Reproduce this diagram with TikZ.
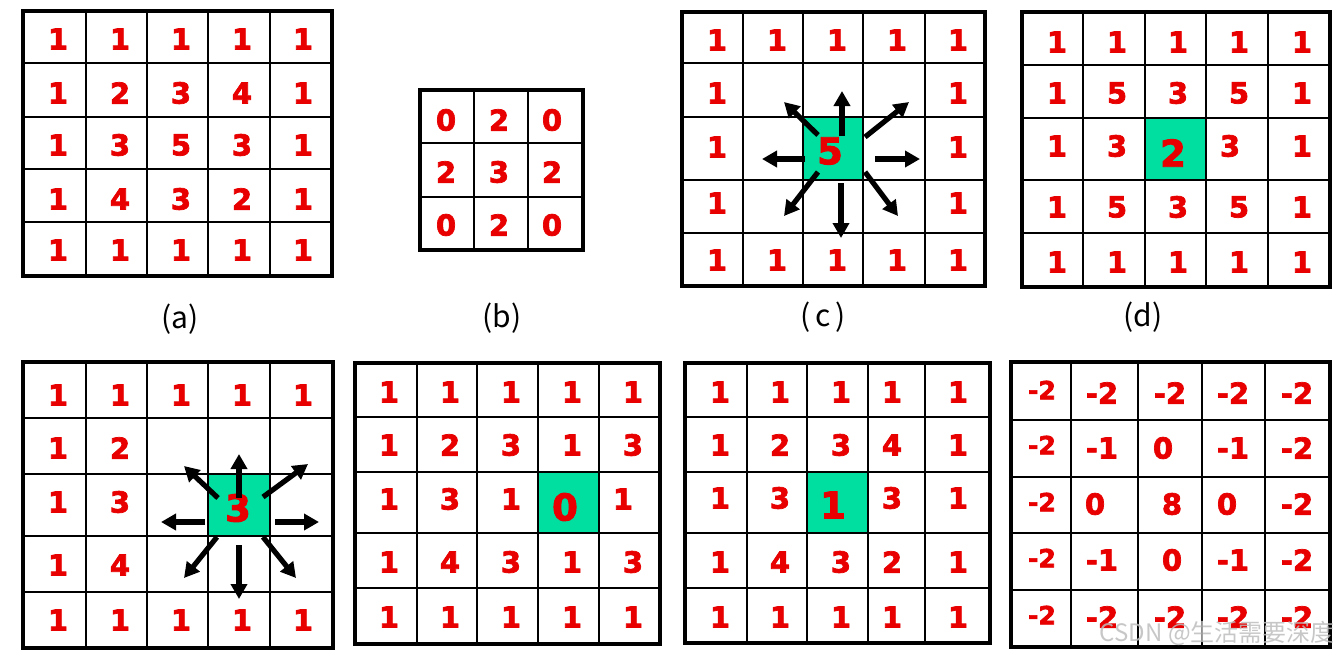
\documentclass[tikz,border=0pt]{standalone}
\usepackage{fontspec}
\usetikzlibrary{arrows.meta}
\newfontfamily\numfont[FakeBold=2.5]{DejaVu Sans Bold}
\newfontfamily\cjk{Noto Sans CJK SC}
\definecolor{numred}{RGB}{232,0,0}
\definecolor{cellgreen}{RGB}{0,222,160}
\definecolor{wmgray}{RGB}{190,190,190}
\tikzset{
  inner/.style={line width=1.7pt, black},
  outer/.style={line width=3.8pt, black, line join=miter},
  num/.style={text=numred, font=\numfont\fontsize{29}{29}\selectfont, inner sep=0pt, anchor=center},
  bignum/.style={num, font=\numfont\fontsize{37}{37}\selectfont},
  smallnum/.style={num, font=\numfont\fontsize{25}{25}\selectfont},
  caplabel/.style={font=\cjk\fontsize{30}{30}\selectfont, inner sep=0pt, anchor=center},
  arr/.style={line width=5.2pt, black, -{Triangle[length=15pt,width=16pt]}},
  wm/.style={font=\cjk\fontsize{24}{24}\selectfont, text=wmgray, text opacity=0.85, inner sep=0pt}
}
\newcommand\vlines[6]{\foreach \xx in {#1,#2,#3,#4} \draw[inner] (\xx,#5) -- (\xx,#6);}
\newcommand\hlines[6]{\foreach \yy in {#1,#2,#3,#4} \draw[inner] (#5,\yy) -- (#6,\yy);}
\newcommand\numrow[3]{\foreach \xx/\vv [count=\k] in {#3} \node[num] (#1-\k) at (\xx,#2) {\vv};}
\newcommand\radarrow[3]{\coordinate (#1s) at #2; \coordinate (#1e) at #3; \draw[arr] (#1s) -- (#1e);}
\begin{document}
\begin{tikzpicture}[x=1pt,y=-1pt]
\useasboundingbox[fill=white] (0,0) rectangle (1340,657);

% ---------- (a) ----------
\vlines{86}{147}{208}{270}{11}{276}
\hlines{63}{117}{169}{222}{23}{332}
\draw[outer] (23,11) rectangle (332,276);
\numrow{a1}{39}{58/1,120/1,181/1,242/1,303/1}
\numrow{a2}{93}{58/1,120/2,181/3,242/4,303/1}
\numrow{a3}{145}{58/1,120/3,181/5,242/3,303/1}
\numrow{a4}{199}{58/1,120/4,181/3,242/2,303/1}
\numrow{a5}{250}{58/1,120/1,181/1,242/1,303/1}
\node[caplabel] (la) at (180,319) {(a)};

% ---------- (b) ----------
\draw[inner] (474,90) -- (474,250);
\draw[inner] (528,90) -- (528,250);
\draw[inner] (420,143) -- (583,143);
\draw[inner] (420,197) -- (583,197);
\draw[outer] (420,90) rectangle (583,250);
\numrow{b1}{120}{446/0,499/2,552/0}
\numrow{b2}{172}{446/2,499/3,552/2}
\numrow{b3}{225}{446/0,499/2,552/0}
\node[caplabel] (lb) at (502,318) {(b)};

% ---------- (c) ----------
\fill[cellgreen] (803,117) rectangle (863,180);
\vlines{743}{803}{863}{925}{12}{286}
\hlines{63}{117}{180}{233}{682}{985}
\draw[outer] (682,12) rectangle (985,286);
\numrow{c1}{40}{717/1,777/1,837/1,897/1,958/1}
\numrow{c2}{93}{717/1,958/1}
\numrow{c3}{147}{717/1,958/1}
\numrow{c4}{203}{717/1,958/1}
\numrow{c5}{260}{717/1,777/1,837/1,897/1,958/1}
\node[bignum] (c5c) at (830,151) {5};
\radarrow{cu}{(842,136)}{(842,91)}
\radarrow{cul}{(818,135)}{(784,102)}
\radarrow{cur}{(865,137)}{(909,102)}
\radarrow{cl}{(805,159)}{(762,159)}
\radarrow{cr}{(875,159)}{(920,159)}
\radarrow{cdl}{(818,172)}{(784,216)}
\radarrow{cd}{(841,183)}{(841,238)}
\radarrow{cdr}{(865,172)}{(898,216)}
\node[caplabel] (lc) at (823,317) {(\,c\,)};

% ---------- (d) ----------
\fill[cellgreen] (1145,118) rectangle (1206,180);
\vlines{1083}{1145}{1206}{1268}{12}{287}
\hlines{65}{118}{180}{233}{1022}{1330}
\draw[outer] (1022,12) rectangle (1330,287);
\numrow{d1}{42}{1057/1,1117/1,1178/1,1239/1,1302/1}
\numrow{d2}{93}{1057/1,1117/5,1178/3,1239/5,1302/1}
\numrow{d3}{146}{1057/1,1117/3,1230/3,1302/1}
\numrow{d4}{207}{1057/1,1117/5,1178/3,1239/5,1302/1}
\numrow{d5}{262}{1057/1,1117/1,1178/1,1239/1,1302/1}
\node[bignum] (d2c) at (1173,153) {2};
\node[caplabel] (ld) at (1143,317) {(d)};

% ---------- (e) ----------
\fill[cellgreen] (208,474) rectangle (270,536);
\vlines{86}{147}{208}{270}{362}{648}
\hlines{418}{474}{536}{592}{23}{333}
\draw[outer] (23,362) rectangle (333,648);
\numrow{e1}{395}{58/1,120/1,181/1,242/1,303/1}
\numrow{e2}{448}{58/1,120/2}
\numrow{e3}{502}{58/1,120/3}
\numrow{e4}{565}{58/1,120/4}
\numrow{e5}{620}{58/1,120/1,181/1,242/1,303/1}
\node[bignum] (e3c) at (238,508) {3};
\radarrow{eu}{(239,498)}{(239,454)}
\radarrow{eul}{(218,498)}{(184,466)}
\radarrow{eur}{(263,497)}{(308,464)}
\radarrow{el}{(205,522)}{(161,522)}
\radarrow{er}{(275,522)}{(319,522)}
\radarrow{edl}{(217,537)}{(184,578)}
\radarrow{ed}{(239,545)}{(239,599)}
\radarrow{edr}{(263,537)}{(296,578)}

% ---------- (f) ----------
\fill[cellgreen] (538,472) rectangle (599,533);
\vlines{417}{477}{538}{599}{363}{644}
\hlines{417}{472}{533}{588}{355}{660}
\draw[outer] (355,363) rectangle (660,644);
\numrow{f1}{392}{389/1,450/1,511/1,572/1,633/1}
\numrow{f2}{445}{389/1,450/2,511/3,572/1,633/3}
\numrow{f3}{499}{389/1,450/3,511/1,623/1}
\numrow{f4}{562}{389/1,450/4,511/3,572/1,633/3}
\numrow{f5}{617}{389/1,450/1,511/1,572/1,633/1}
\node[bignum] (f3c) at (565,507) {0};

% ---------- (g) ----------
\fill[cellgreen] (807,472) rectangle (868,533);
\vlines{747}{807}{868}{925}{363}{643}
\hlines{417}{472}{533}{588}{685}{990}
\draw[outer] (685,363) rectangle (990,643);
\numrow{g1}{392}{720/1,780/1,841/1,892/1,958/1}
\numrow{g2}{445}{720/1,780/2,841/3,892/4,958/1}
\numrow{g3}{498}{720/1,780/3,892/3,958/1}
\numrow{g4}{562}{720/1,780/4,841/3,892/2,958/1}
\numrow{g5}{617}{720/1,780/1,841/1,892/1,958/1}
\node[bignum] (g3c) at (833,505) {1};

% ---------- (h) ----------
\vlines{1071}{1138}{1202}{1265}{362}{647}
\hlines{420}{477}{533}{590}{1011}{1330}
\draw[outer] (1011,362) rectangle (1330,647);
\foreach \yy [count=\k] in {390,445,502,558,615}
  \node[smallnum] (h\k-1) at (1042,\yy) {-2};
\numrow{h1}{393}{1102/-2,1170/-2,1233/-2,1297/-2}
\numrow{h2}{448}{1102/-1,1163/0,1233/-1,1297/-2}
\numrow{h3}{504}{1095/0,1172/8,1227/0,1297/-2}
\numrow{h4}{560}{1102/-1,1172/0,1233/-1,1297/-2}
\numrow{h5}{617}{1102/-2,1170/-2,1233/-2,1297/-2}

% watermark
\node[wm, anchor=east] (wmark) at (1335,633) {CSDN @生活需要深度};
\end{tikzpicture}
\end{document}
